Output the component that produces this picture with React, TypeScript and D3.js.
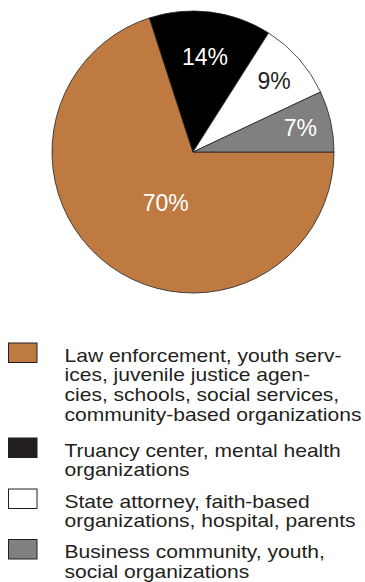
import React from "react";
import * as d3 from "d3";

const categories = [
  "Law enforcement, youth services, juvenile justice agencies, schools, social services, community-based organizations",
  "Truancy center, mental health organizations",
  "State attorney, faith-based organizations, hospital, parents",
  "Business community, youth, social organizations",
];
const values = [70, 14, 9, 7];
const percentLabels = ["70%", "14%", "9%", "7%"];
const legendLines = [
  ["Law enforcement, youth serv-", "ices, juvenile justice agen-", "cies, schools, social services,", "community-based organizations"],
  ["Truancy center, mental health", "organizations"],
  ["State attorney, faith-based", "organizations, hospital, parents"],
  ["Business community, youth,", "social organizations"],
];

// styling / layout (not data)
const sliceColors = ["#BE7A41", "#000000", "#FFFFFF", "#808080"];
const swatchColors = ["#BE7A41", "#231F20", "#FFFFFF", "#808080"];
const labelColors = ["#FFFFFF", "#FFFFFF", "#231F20", "#FFFFFF"];
const labelRadius = [58, 96, 108, 110];
const labelAngleShift = [-8, 0, 0, 0];
const legendBaselines = [361.5, 456.5, 507.5, 558];
const lineGap = 19.7;

export default function App() {
  const W = 365, H = 582;
  const cx = 193, cy = 152, R = 141;
  const start = Math.PI / 2;
  const pie = d3.pie<number>().sort(null).startAngle(start).endAngle(start + 2 * Math.PI);
  const arcs = pie(values);
  const arc = d3.arc<d3.PieArcDatum<number>>().innerRadius(0).outerRadius(R);
  const font = "'Liberation Sans', Arial, Helvetica, sans-serif";
  return (
    <svg width={W} height={H} style={{ position: "absolute", left: 0, top: 0 }} fontFamily={font}>
      <rect width={W} height={H} fill="#fff" />
      <g transform={`translate(${cx},${cy})`}>
        {arcs.map((a, i) => (
          <path key={i} d={arc(a) || ""} fill={sliceColors[i]} stroke="#231F20" strokeWidth={0.8} />
        ))}
        {arcs.map((a, i) => {
          const mid = (a.startAngle + a.endAngle) / 2 + (labelAngleShift[i] * Math.PI) / 180;
          const r = labelRadius[i];
          const x = Math.sin(mid) * r;
          const y = -Math.cos(mid) * r;
          return (
            <text key={i} x={x} y={y} dy="0.35em" textAnchor="middle" fontSize={23} fill={labelColors[i]}>
              {percentLabels[i]}
            </text>
          );
        })}
      </g>
      <g>
        {categories.map((c, i) => (
          <g key={i}>
            <title>{c}</title>
            <rect x={8.5} y={legendBaselines[i] - 18.5} width={28.5} height={19.5} fill={swatchColors[i]} stroke="#231F20" strokeWidth={1} />
            {legendLines[i].map((l, j) => (
              <text
                key={j}
                transform={`translate(64.5,${legendBaselines[i] + j * lineGap}) scale(1.12,1)`}
                fontSize={18.8}
                fill="#231F20"
              >
                {l}
              </text>
            ))}
          </g>
        ))}
      </g>
    </svg>
  );
}
